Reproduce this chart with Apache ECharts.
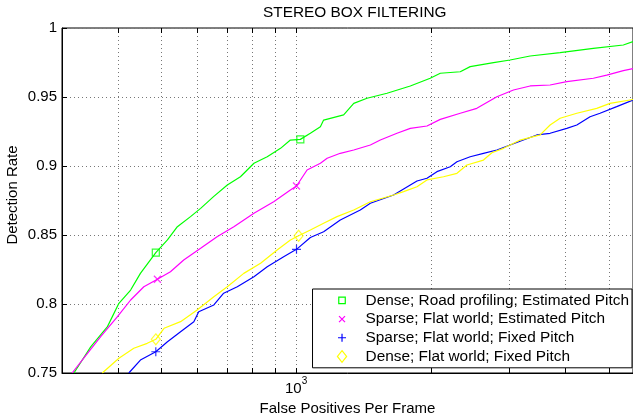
<!DOCTYPE html>
<html><head><meta charset="utf-8">
<script src="https://cdn.jsdelivr.net/npm/echarts@6/dist/echarts.min.js"></script>
<style>html,body{margin:0;padding:0;background:#fff}#c{width:633px;height:420px}</style>
</head><body><div id="c"></div>
<script>
const titleText = 'STEREO BOX FILTERING';
const xName = 'False Positives Per Frame';
const yName = 'Detection Rate';
const seriesNames = [
  'Dense; Road profiling; Estimated Pitch',
  'Sparse; Flat world; Estimated Pitch',
  'Sparse; Flat world; Fixed Pitch',
  'Dense; Flat world; Fixed Pitch'
];
const seriesColors = ['#00ff00', '#ff00ff', '#0000ff', '#ffff00'];

const xMin = 300, xMax = 5655;
const yMin = 0.75, yMax = 1, yStep = 0.05;
const xGridValues = [400, 500, 600, 700, 800, 900, 1000, 2000, 3000, 4000, 5000];

const denseRoadX = [319, 348, 379, 402, 427, 449, 486, 516, 543, 581, 612, 654, 702, 751, 805, 862, 923, 971, 1022, 1076, 1133, 1152, 1277, 1345, 1440, 1596, 1799, 1993, 2099, 2326, 2448, 2760, 3006, 3332, 3887, 4611, 5381, 5655];
const denseRoadY = [0.75, 0.7691, 0.7836, 0.8005, 0.8101, 0.8222, 0.8372, 0.8464, 0.8560, 0.8633, 0.8693, 0.8778, 0.8862, 0.8922, 0.9020, 0.9067, 0.9128, 0.9188, 0.9193, 0.9237, 0.9285, 0.9333, 0.9370, 0.9454, 0.9491, 0.9527, 0.9580, 0.9636, 0.9672, 0.9683, 0.9720, 0.9749, 0.9768, 0.9797, 0.9821, 0.9853, 0.9877, 0.9901];

const sparseEstX = [316, 342, 366, 399, 427, 457, 490, 524, 561, 612, 666, 726, 805, 891, 971, 1002, 1058, 1133, 1173, 1255, 1345, 1465, 1542, 1680, 1799, 1960, 2099, 2326, 2533, 2808, 3058, 3332, 3692, 4023, 4611, 4941, 5381, 5655];
const sparseEstY = [0.75, 0.7643, 0.7763, 0.7908, 0.8029, 0.8125, 0.8179, 0.8234, 0.8319, 0.8404, 0.8488, 0.8560, 0.8657, 0.8741, 0.8826, 0.8855, 0.8971, 0.9020, 0.9056, 0.9092, 0.9116, 0.9152, 0.9188, 0.9237, 0.9273, 0.9290, 0.9338, 0.9382, 0.9418, 0.9502, 0.9551, 0.9580, 0.9587, 0.9611, 0.9636, 0.9659, 0.9691, 0.9705];

const sparseFixedX = [423, 449, 486, 516, 552, 591, 606, 655, 689, 739, 805, 862, 938, 1002, 1076, 1152, 1255, 1391, 1465, 1651, 1799, 1862, 1960, 2063, 2209, 2287, 2448, 2621, 2808, 3006, 3219, 3448, 3692, 4023, 4236, 4535, 4773, 5200, 5655];
const sparseFixedY = [0.75, 0.7594, 0.7654, 0.7727, 0.7799, 0.7872, 0.7944, 0.7993, 0.8078, 0.8125, 0.8198, 0.8270, 0.8343, 0.8396, 0.8482, 0.8524, 0.8609, 0.8681, 0.8730, 0.8790, 0.8862, 0.8891, 0.8911, 0.8959, 0.8995, 0.9031, 0.9067, 0.9092, 0.9116, 0.9152, 0.9188, 0.9225, 0.9237, 0.9273, 0.9297, 0.9357, 0.9382, 0.9430, 0.9478];

const denseFixedX = [369, 402, 434, 465, 486, 507, 552, 601, 655, 702, 764, 833, 907, 971, 1013, 1076, 1152, 1234, 1345, 1465, 1651, 1738, 1862, 1960, 2134, 2287, 2407, 2621, 2737, 2905, 3006, 3165, 3508, 3692, 3887, 4236, 4693, 5024, 5655];
const denseFixedY = [0.75, 0.7607, 0.7679, 0.7715, 0.7744, 0.7824, 0.7872, 0.7957, 0.8053, 0.8125, 0.8222, 0.8295, 0.8391, 0.8464, 0.8495, 0.8536, 0.8585, 0.8633, 0.8681, 0.8741, 0.8790, 0.8814, 0.8850, 0.8899, 0.8922, 0.8947, 0.9007, 0.9043, 0.9096, 0.9128, 0.9152, 0.9188, 0.9225, 0.9297, 0.9346, 0.9382, 0.9418, 0.9454, 0.9482];

const denseRoadMarkX = [486, 1022], denseRoadMarkY = [0.8372, 0.9193];
const sparseEstMarkX = [490, 1002], sparseEstMarkY = [0.8179, 0.8855];
const sparseFixedMarkX = [486, 1002], sparseFixedMarkY = [0.7654, 0.8396];
const denseFixedMarkX = [486, 1013], denseFixedMarkY = [0.7744, 0.8495];

const FONT = 'Liberation Sans, Arial, Helvetica, sans-serif';
const lineXs = [denseRoadX, sparseEstX, sparseFixedX, denseFixedX];
const lineYs = [denseRoadY, sparseEstY, sparseFixedY, denseFixedY];
const markXs = [denseRoadMarkX, sparseEstMarkX, sparseFixedMarkX, denseFixedMarkX];
const markYs = [denseRoadMarkY, sparseEstMarkY, sparseFixedMarkY, denseFixedMarkY];

// marker shapes (plot) and legend icons (12x12 frame)
const plotSymbols = [
  'path://M0,0L10,0L10,10L0,10Z',
  'path://M0,0L10,10M10,0L0,10',
  'path://M5,0L5,10M0,5L10,5',
  'path://M5,0L10,5.5L5,11L0,5.5Z'
];
const plotSymbolSizes = [[7,7],[7,7],[9,9],[9,11]];
const legendIcons = [
  'path://M0,0M12,12M2.75,2.75L9.25,2.75L9.25,9.25L2.75,9.25Z',
  'path://M0,0M12,12M3,3L9,9M9,3L3,9',
  'path://M0,0M12,12M6,2L6,10M2,6L10,6',
  'path://M0,0M12,12M6,0.2L10.6,6L6,11.8L1.4,6Z'
];

const plotH = 345; // used only to convert tick length (5px) into axis units
const tk = (yMax - yMin) * 5 / plotH;
const gridMarks = [];
xGridValues.forEach(v => {
  gridMarks.push({ xAxis: v, lineStyle: { type: [1, 3], color: '#777', width: 1 } });
  gridMarks.push([{ coord: [v, yMin], lineStyle: { type: 'solid', color: '#000', width: 1 } }, { coord: [v, yMin + tk] }]);
  gridMarks.push([{ coord: [v, yMax], lineStyle: { type: 'solid', color: '#000', width: 1 } }, { coord: [v, yMax - tk] }]);
});

const series = [];
seriesNames.forEach((name, i) => {
  const s = {
    name: name, type: 'line', showSymbol: false, symbol: 'none',
    data: lineXs[i].map((x, k) => [x, lineYs[i][k]]),
    lineStyle: { color: seriesColors[i], width: 1.2 },
    itemStyle: { color: seriesColors[i] },
    z: 3
  };
  if (i === 0) {
    s.markLine = { silent: true, symbol: ['none', 'none'], label: { show: false }, animation: false, z: 1, data: gridMarks };
  }
  series.push(s);
  series.push({
    name: name + ' markers', type: 'scatter', silent: true,
    symbol: plotSymbols[i], symbolSize: plotSymbolSizes[i], symbolKeepAspect: false,
    data: markXs[i].map((x, k) => [x, markYs[i][k]]),
    itemStyle: { color: 'none', borderColor: seriesColors[i], borderWidth: 1.2 },
    z: 4
  });
});

const chart = echarts.init(document.getElementById('c'), null, { renderer: 'canvas' });
chart.setOption({
  animation: false,
  backgroundColor: '#fff',
  title: { text: titleText, left: 258, top: 0, textStyle: { fontFamily: FONT, fontSize: 15.4, fontWeight: 'normal', color: '#000' } },
  grid: { left: 62, top: 28, right: 0, bottom: 47, show: true, borderColor: '#000', borderWidth: 1, outerBoundsMode: 'none', containLabel: false },
  xAxis: {
    type: 'log', logBase: 10, min: xMin, max: xMax,
    name: xName, nameLocation: 'middle', nameGap: 24,
    nameTextStyle: { fontFamily: FONT, fontSize: 15, color: '#000' },
    axisLine: { show: true, lineStyle: { color: '#000', width: 1 } },
    axisTick: { show: false },
    splitLine: { show: false },
    minorTick: { show: false }, minorSplitLine: { show: false },
    axisLabel: {
      margin: 3,
      formatter: v => (Math.abs(v - 1000) < 1 ? '{a|10}{b|3}' : ''),
      rich: {
        a: { fontFamily: FONT, fontSize: 15, color: '#000', verticalAlign: 'bottom' },
        b: { fontFamily: FONT, fontSize: 10, color: '#000', verticalAlign: 'top', padding: [0, 0, 10, 0] }
      }
    }
  },
  yAxis: {
    type: 'value', min: yMin, max: yMax, interval: yStep,
    axisLine: { show: true, lineStyle: { color: '#000', width: 1 } },
    axisTick: { show: true, inside: true, length: 5, lineStyle: { color: '#000' } },
    axisLabel: { fontFamily: FONT, fontSize: 15, color: '#000', margin: 5 },
    splitLine: { show: true, lineStyle: { type: [1, 3], color: '#777', width: 1 } }
  },
  legend: {
    orient: 'vertical', right: 1, top: 289,
    padding: [2, 3, 2, 21],
    borderColor: '#000', borderWidth: 1, backgroundColor: '#fff',
    itemWidth: 37, itemHeight: 12, itemGap: 0,
    symbolKeepAspect: true,
    selectedMode: false,
    textStyle: { fontFamily: FONT, fontSize: 15.4, color: '#000', lineHeight: 18.7 },
    data: seriesNames.map((n, i) => ({
      name: n, icon: legendIcons[i],
      itemStyle: { color: 'none', borderColor: seriesColors[i], borderWidth: 1.2 }
    }))
  },
  graphic: [{
    type: 'text', x: 13, y: 195, rotation: Math.PI / 2,
    style: { text: yName, fontFamily: FONT, fontSize: 15, fill: '#000', align: 'center', verticalAlign: 'middle' }
  }],
  series: series
});
</script>
</body></html>
